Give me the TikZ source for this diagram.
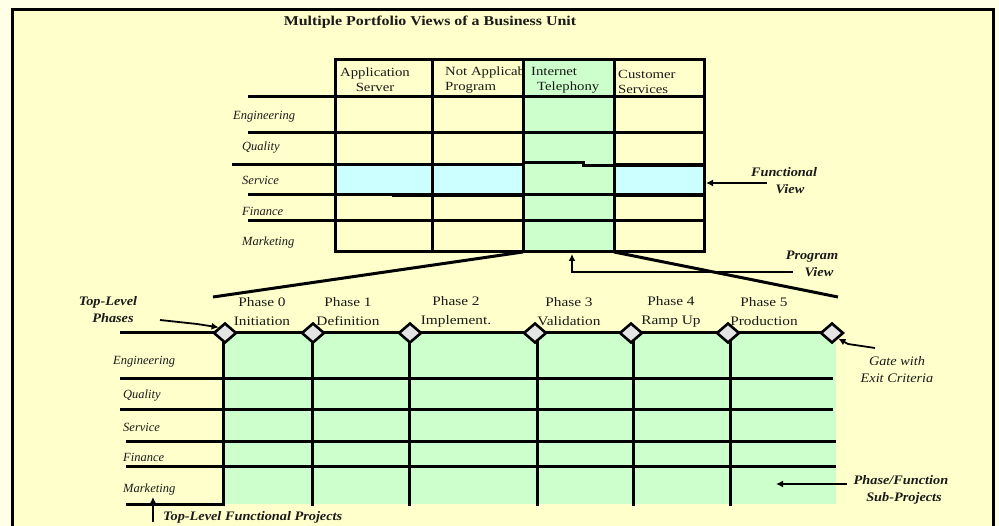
\documentclass[tikz,border=0pt]{standalone}
\usepackage{fontspec}
\setmainfont{Liberation Serif}
\newfontfamily\widerm[FakeStretch=1.18]{Liberation Serif}
\newfontfamily\annrm[FakeStretch=1.1]{Liberation Serif}
\usetikzlibrary{shapes.geometric,arrows.meta}
\definecolor{bgout}{HTML}{FFFFE8}
\definecolor{bgin}{HTML}{FFFFCC}
\definecolor{grn}{HTML}{CCFFCC}
\definecolor{cyn}{HTML}{CCFFFF}
\definecolor{gatefill}{HTML}{E4E4E4}
\definecolor{ink}{HTML}{1A1A1A}
\begin{document}
\begin{tikzpicture}[x=1pt,y=-1pt,
  gridline/.style={line width=3pt},
  thickline/.style={line width=4.8pt},
  rowlbl/.style={font=\fontsize{12.5}{15}\selectfont\itshape, anchor=west, inner sep=0, text=ink},
  hdr/.style={font=\widerm\fontsize{12.5}{15}\selectfont, inner sep=0, text=ink},
  phaselbl/.style={font=\widerm\fontsize{13}{19}\selectfont, align=center, inner sep=0, text=ink},
  ann/.style={font=\annrm\fontsize{13}{17}\selectfont\bfseries\itshape, align=center, inner sep=0, text=ink},
  gatebox/.style={diamond, draw, fill=gatefill, line width=2.6pt, minimum width=23pt, minimum height=20pt, inner sep=0},
  arr/.style={line width=1.8pt, -{Latex[length=7pt,width=7pt]}},
  fan/.style={line width=3pt},
]
\clip (0,0) rectangle (999,526);
\fill[bgout] (0,0) rectangle (999,526);
\draw[line width=3pt, fill=bgin] (12,10) rectangle (993,560);

% title
\node[font=\widerm\fontsize{13.5}{16}\selectfont\bfseries, text=ink] (title) at (430,22) {Multiple Portfolio Views of a Business Unit};

% ---------- top table ----------
\fill[grn] (523,60) rectangle (614,252);
\fill[cyn] (335,165) rectangle (523,195);
\fill[cyn] (614,165) rectangle (704,195);

\node[hdr, align=center] (h1) at (375,80) {Application\\Server};
\begin{scope}
  \clip (433,60) rectangle (522,97);
  \node[hdr, align=left, anchor=north west] (h2) at (445,67) {Not Applicable\\Program};
\end{scope}
\node[hdr, align=left, anchor=north west] (h3) at (531,67) {Internet\\\hspace*{6pt}Telephony};
\node[hdr, align=left, anchor=north west] (h4) at (618,70) {Customer\\Services};

\draw[gridline] (335,60) -- (704,60);
\draw[gridline] (248,97) -- (704,97);
\draw[gridline] (248,133) -- (704,133);
\draw[gridline] (232,165) -- (523,165);
\draw[gridline] (523,163) -- (583,163) -- (583,166) -- (614,166);
\draw[gridline] (248,195) -- (704,195);
\draw[gridline] (248,221) -- (704,221);
\draw[gridline] (335,252) -- (704,252);
\foreach \x in {335,432,523,614,704} \draw[gridline] (\x,58.5) -- (\x,253.5);
\draw[thickline] (614,165) -- (705,165);
\draw[thickline] (392,195) -- (523,195);
\draw[thickline] (614,195) -- (705,195);

\node[rowlbl] (te) at (233,117) {Engineering};
\node[rowlbl] (tq) at (242,148) {Quality};
\node[rowlbl] (ts) at (242,180) {Service};
\node[rowlbl] (tf) at (242,211) {Finance};
\node[rowlbl] (tm) at (242,242) {Marketing};

% fan lines
\coordinate (tblL) at (523,252);
\coordinate (tblR) at (614,252);
\coordinate (fanL) at (213,297);
\coordinate (fanR) at (838,297);
\draw[fan] (tblL) -- (fanL);
\draw[fan] (tblR) -- (fanR);

% ---------- lower grid ----------
\fill[grn] (223,333) rectangle (836,504);
\draw[gridline] (120,333) -- (833,333);
\draw[gridline] (120,379) -- (833,379);
\draw[gridline] (120,410) -- (833,410);
\draw[gridline] (126,442) -- (836,442);
\draw[gridline] (126,467) -- (836,467);
\draw[gridline] (126,504) -- (224.5,504);
\foreach \x in {223,312,409,537,633,730} \draw[gridline] (\x,333) -- (\x,505.5);

\node[gatebox] (g0) at (225,333) {};
\node[gatebox] (g1) at (313,333) {};
\node[gatebox] (g2) at (410,333) {};
\node[gatebox] (g3) at (535,333) {};
\node[gatebox] (g4) at (631,333) {};
\node[gatebox] (g5) at (728,333) {};
\node[gatebox] (g6) at (832,333) {};

\node[phaselbl] (p0) at (262,312) {Phase 0\\Initiation};
\node[phaselbl] (p1) at (348,312) {Phase 1\\Definition};
\node[phaselbl] (p2) at (456,312) {Phase 2\\Implement.};
\node[phaselbl] (p3) at (569,312) {Phase 3\\Validation};
\node[phaselbl] (p4) at (671,312) {Phase 4\\Ramp Up};
\node[phaselbl] (p5) at (764,312) {Phase 5\\Production};

\node[rowlbl] (le) at (113,362) {Engineering};
\node[rowlbl] (lq) at (123,396) {Quality};
\node[rowlbl] (ls) at (123,427) {Service};
\node[rowlbl] (lf) at (123,457) {Finance};
\node[rowlbl] (lm) at (123,489) {Marketing};

% ---------- annotations ----------
\node[ann] (fv) at (784,181) {Functional\\\hspace*{12pt}View};
\coordinate (fvS) at (767,183);
\coordinate (fvE) at (706,183);
\draw[arr] (fvS) -- (fvE);

\node[ann] (pv) at (812,264) {Program\\\hspace*{14pt}View};
\coordinate (pvS) at (793,272);
\coordinate (pvE) at (572,254);
\draw[arr] (pvS) -| (pvE);

\node[ann] (tlp) at (108,310) {Top-Level\\\hspace*{10pt}Phases};
\coordinate (tlpS) at (160,320);
\coordinate (tlpM) at (197,324);
\draw[arr] (tlpS) -- (tlpM) -- (g0.north west);

\node[ann, font=\annrm\fontsize{13}{17}\selectfont\itshape] (gate) at (897,370) {Gate with\\Exit Criteria};
\coordinate (gateS) at (875,348);
\coordinate (gateM) at (848,344);
\draw[arr] (gateS) -- (gateM) -- (g6.south east);

\node[ann] (sub) at (901,490) {Phase/Function\\\hspace*{6pt}Sub-Projects};
\coordinate (subS) at (847,484);
\coordinate (subE) at (776,484);
\draw[arr] (subS) -- (subE);

\node[ann, anchor=west] (tlfp) at (163,517) {Top-Level Functional Projects};
\coordinate (tlfpS) at (153,522);
\coordinate (tlfpE) at (153,497);
\draw[arr] (tlfpS) -- (tlfpE);
\end{tikzpicture}
\end{document}
